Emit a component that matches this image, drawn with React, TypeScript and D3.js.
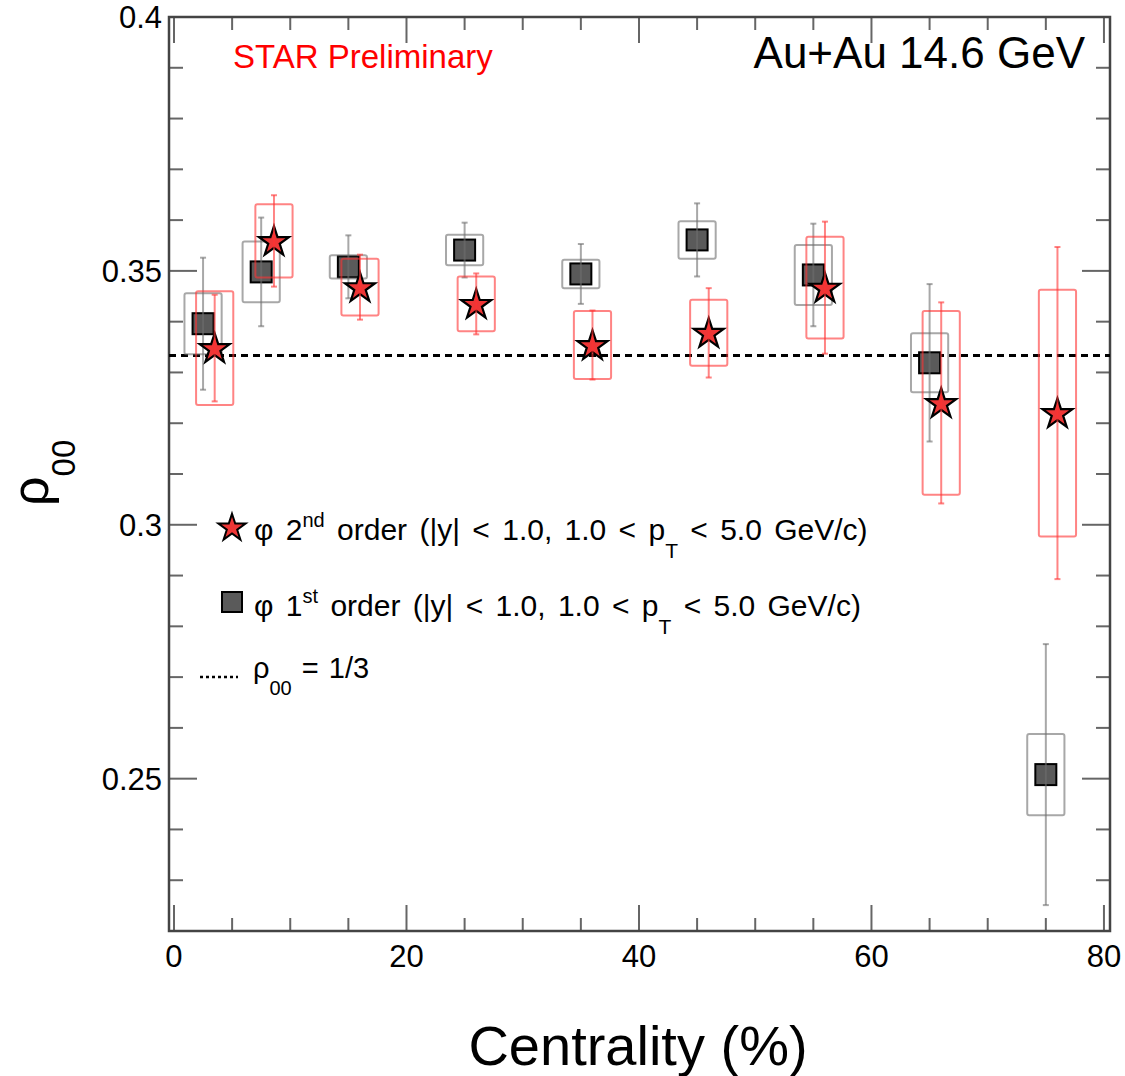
import React from "react";
import * as d3 from "d3";

// ---- data ----
const firstX = [2.5, 7.5, 15, 25, 35, 45, 55, 65, 75];
const firstY = [0.3396, 0.3498, 0.3508, 0.3541, 0.3494, 0.3561, 0.3492, 0.3319, 0.2508];
const firstStat = [0.013, 0.0107, 0.0062, 0.0054, 0.0059, 0.0072, 0.0101, 0.0155, 0.0257];
const firstSys = [0.006, 0.006, 0.0023, 0.003, 0.0028, 0.0037, 0.0059, 0.0058, 0.008];

const secondX = [3.5, 8.6, 16, 26, 36, 46, 56, 66, 76];
const secondY = [0.3348, 0.3559, 0.3468, 0.3435, 0.3354, 0.3378, 0.3467, 0.324, 0.322];
const secondStat = [0.0105, 0.009, 0.0064, 0.006, 0.0068, 0.0088, 0.013, 0.0198, 0.0327];
const secondSys = [0.0112, 0.0072, 0.0056, 0.0054, 0.0067, 0.0065, 0.01, 0.0181, 0.0243];

const xMajor = [0, 20, 40, 60, 80];
const xMinor = d3.range(0, 81, 5);
const yMajor = [0.25, 0.3, 0.35, 0.4];
const yMinor = d3.range(22, 41, 1).map((v) => v / 100);
const yTickLabels = ["0.25", "0.3", "0.35", "0.4"];
const refLevel = 1 / 3;
const boxHalfWidth = 1.6;

const W = 1125;
const H = 1076;
const L = 169, R = 1110, T = 17, B = 931;

export default function App() {
  const x = d3.scaleLinear().domain([-0.43, 80.52]).range([L, R]);
  const y = d3.scaleLinear().domain([0.22, 0.4]).range([B, T]);
  const star = d3.symbol(d3.symbolStar, 280)()!;
  const starLeg = d3.symbol(d3.symbolStar, 230)()!;
  const tickColor = "#666";
  const grayErr = "rgba(110,110,110,0.6)";
  const redErr = "rgba(255,50,50,0.6)";
  const font = "Liberation Sans, Arial, Helvetica, sans-serif";

  const errBars = (xs: number[], ys: number[], es: number[], color: string, key: string) =>
    xs.map((xv, i) => {
      const cx = x(xv);
      const y1 = y(ys[i] + es[i]);
      const y2 = y(ys[i] - es[i]);
      return (
        <g key={key + i} stroke={color} strokeWidth={2}>
          <line x1={cx} x2={cx} y1={y1} y2={y2} />
          <line x1={cx - 3} x2={cx + 3} y1={y1} y2={y1} />
          <line x1={cx - 3} x2={cx + 3} y1={y2} y2={y2} />
        </g>
      );
    });

  const sysBoxes = (xs: number[], ys: number[], es: number[], color: string, key: string) =>
    xs.map((xv, i) => (
      <rect
        key={key + i}
        x={x(xv - boxHalfWidth)}
        y={y(ys[i] + es[i])}
        width={x(xv + boxHalfWidth) - x(xv - boxHalfWidth)}
        height={y(ys[i] - es[i]) - y(ys[i] + es[i])}
        fill="none"
        stroke={color}
        strokeWidth={2}
        rx={2}
      />
    ));

  return (
    <svg width={W} height={H} style={{ position: "absolute", left: 0, top: 0, background: "#fff" }} fontFamily={font}>
      <rect x={0} y={0} width={W} height={H} fill="#fff" />
      {/* ticks */}
      <g stroke={tickColor} strokeWidth={2}>
        {xMinor.map((v) => {
          const major = xMajor.includes(v);
          const len = major ? 26 : 13;
          return (
            <g key={"xt" + v}>
              <line x1={x(v)} x2={x(v)} y1={B} y2={B - len} />
              <line x1={x(v)} x2={x(v)} y1={T} y2={T + len} />
            </g>
          );
        })}
        {yMinor.map((v) => {
          const major = yMajor.some((m) => Math.abs(m - v) < 1e-9);
          const len = major ? 28 : 14;
          return (
            <g key={"yt" + v}>
              <line x1={L} x2={L + len} y1={y(v)} y2={y(v)} />
              <line x1={R} x2={R - len} y1={y(v)} y2={y(v)} />
            </g>
          );
        })}
      </g>
      {/* frame */}
      <rect x={L} y={T} width={R - L} height={B - T} fill="none" stroke="#444" strokeWidth={2.5} />
      {/* tick labels */}
      {xMajor.map((v) => (
        <text key={"xl" + v} x={x(v)} y={967} fontSize={31} textAnchor="middle" fill="#000">
          {v}
        </text>
      ))}
      {yMajor.map((v, i) => (
        <text key={"yl" + v} x={162} y={y(v) + 11} fontSize={31} textAnchor="end" fill="#000">
          {yTickLabels[i]}
        </text>
      ))}
      {/* axis titles */}
      <text x={638} y={1065} fontSize={56} textAnchor="middle" fill="#000">
        Centrality (%)
      </text>
      <text transform="translate(48,506) rotate(-90)" fontSize={52} fill="#000">
        ρ<tspan fontSize={33} dy={27}>00</tspan>
      </text>
      {/* reference line */}
      <line x1={L} x2={R} y1={y(refLevel)} y2={y(refLevel)} stroke="#000" strokeWidth={3} strokeDasharray="7,5" />
      {/* 1st order */}
      {firstX.map((xv, i) => (
        <rect key={"sq" + i} x={x(xv) - 10.5} y={y(firstY[i]) - 10.5} width={21} height={21} fill="#5a5a5a" stroke="#000" strokeWidth={2} />
      ))}
      {sysBoxes(firstX, firstY, firstSys, grayErr, "gb")}
      {errBars(firstX, firstY, firstStat, grayErr, "ge")}
      {/* 2nd order */}
      {secondX.map((xv, i) => (
        <path key={"st" + i} d={star} transform={`translate(${x(xv)},${y(secondY[i]) + 1})`} fill="#ee3636" stroke="#000" strokeWidth={2.2} strokeLinejoin="miter" />
      ))}
      {sysBoxes(secondX, secondY, secondSys, redErr, "rb")}
      {errBars(secondX, secondY, secondStat, redErr, "re")}
      {/* labels */}
      <text x={233} y={68} fontSize={33} fill="#ff0000">
        STAR Preliminary
      </text>
      <text x={1085} y={68} fontSize={44} textAnchor="end" fill="#000">
        Au+Au 14.6 GeV
      </text>
      {/* legend */}
      <path d={starLeg} transform="translate(232,528)" fill="#ee3636" stroke="#000" strokeWidth={2} />
      <text x={254} y={540} fontSize={30} fill="#000" wordSpacing={4}>
        φ 2<tspan fontSize={20} dy={-13}>nd</tspan>
        <tspan dy={13}> order (|y| &lt; 1.0, 1.0 &lt; p</tspan>
        <tspan fontSize={21} dy={18}>T</tspan>
        <tspan dy={-18}> &lt; 5.0 GeV/c)</tspan>
      </text>
      <rect x={222} y={592} width={20} height={20} fill="#5a5a5a" stroke="#000" strokeWidth={2} />
      <text x={254} y={616} fontSize={30} fill="#000" wordSpacing={4}>
        φ 1<tspan fontSize={20} dy={-13}>st</tspan>
        <tspan dy={13}> order (|y| &lt; 1.0, 1.0 &lt; p</tspan>
        <tspan fontSize={21} dy={18}>T</tspan>
        <tspan dy={-18}> &lt; 5.0 GeV/c)</tspan>
      </text>
      <line x1={200} x2={238} y1={677} y2={677} stroke="#000" strokeWidth={2.5} strokeDasharray="3,3" />
      <text x={253} y={678} fontSize={29} fill="#000" wordSpacing={2}>
        ρ<tspan fontSize={20} dy={17}>00</tspan>
        <tspan dy={-17}> = 1/3</tspan>
      </text>
    </svg>
  );
}
